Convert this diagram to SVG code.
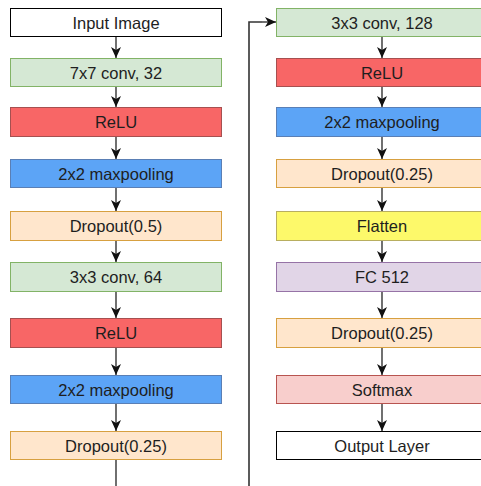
<svg xmlns="http://www.w3.org/2000/svg" width="481" height="486" viewBox="0 0 481 486">
  <style>
    .box { stroke-width: 1; }
    .lbl { font-family: "Liberation Sans", Arial, Helvetica, sans-serif; font-size: 16.5px; fill: #1e1e1e; text-anchor: middle; dominant-baseline: central; }
    .white { fill: #ffffff; stroke: #000000; }
    .green { fill: #d5e8d4; stroke: #82b366; }
    .red { fill: #f86666; stroke: #a65050; }
    .blue { fill: #5ca4f6; stroke: #5a7fb5; }
    .orange { fill: #ffe6cc; stroke: #d7a040; }
    .yellow { fill: #fdf96a; stroke: #b8ae60; }
    .purple { fill: #e1d5e7; stroke: #9673a6; }
    .pink { fill: #f8cecc; stroke: #b85450; }
    .edge { fill: none; stroke: #111111; stroke-width: 1.2; }
    .loop { fill: none; stroke: #333333; stroke-width: 1.6; }
  </style>
  <defs>
    <marker id="arrow" markerUnits="userSpaceOnUse" markerWidth="12" markerHeight="12" viewBox="0 0 12 10" refX="11" refY="5" orient="auto">
      <path d="M0,0 L11,5 L0,10 L3,5 z" fill="#111111"/>
    </marker>
  </defs>

  <rect width="481" height="486" fill="#ffffff"/>

  <!-- connectors -->
  <g id="edges">
    <line class="edge" x1="116" y1="36" x2="116" y2="58" marker-end="url(#arrow)"/>
    <line class="edge" x1="116" y1="86" x2="116" y2="107" marker-end="url(#arrow)"/>
    <line class="edge" x1="116" y1="136" x2="116" y2="159" marker-end="url(#arrow)"/>
    <line class="edge" x1="116" y1="187" x2="116" y2="211" marker-end="url(#arrow)"/>
    <line class="edge" x1="116" y1="240" x2="116" y2="262" marker-end="url(#arrow)"/>
    <line class="edge" x1="116" y1="291" x2="116" y2="318" marker-end="url(#arrow)"/>
    <line class="edge" x1="116" y1="347" x2="116" y2="375" marker-end="url(#arrow)"/>
    <line class="edge" x1="116" y1="403" x2="116" y2="431" marker-end="url(#arrow)"/>

    <polyline class="edge" points="116,459 116,500 249,500"/>
    <polyline class="loop" points="249,500 249,22 262,22"/>
    <line class="edge" x1="262" y1="22" x2="276" y2="22" marker-end="url(#arrow)"/>

    <line class="edge" x1="382" y1="36" x2="382" y2="58" marker-end="url(#arrow)"/>
    <line class="edge" x1="382" y1="86" x2="382" y2="107" marker-end="url(#arrow)"/>
    <line class="edge" x1="382" y1="136" x2="382" y2="159" marker-end="url(#arrow)"/>
    <line class="edge" x1="382" y1="187" x2="382" y2="211" marker-end="url(#arrow)"/>
    <line class="edge" x1="382" y1="240" x2="382" y2="262" marker-end="url(#arrow)"/>
    <line class="edge" x1="382" y1="291" x2="382" y2="318" marker-end="url(#arrow)"/>
    <line class="edge" x1="382" y1="347" x2="382" y2="375" marker-end="url(#arrow)"/>
    <line class="edge" x1="382" y1="403" x2="382" y2="431" marker-end="url(#arrow)"/>
  </g>

  <!-- left column -->
  <g id="input-image"><rect class="box white" x="10.5" y="8.5" width="211" height="28"/><text class="lbl" x="116" y="22.5">Input Image</text></g>
  <g id="conv7x7"><rect class="box green" x="10.5" y="58.5" width="211" height="28"/><text class="lbl" x="116" y="72.5">7x7 conv, 32</text></g>
  <g id="relu1"><rect class="box red" x="10.5" y="107.5" width="211" height="29"/><text class="lbl" x="116" y="122">ReLU</text></g>
  <g id="pool1"><rect class="box blue" x="10.5" y="159.5" width="211" height="28"/><text class="lbl" x="116" y="173.5">2x2 maxpooling</text></g>
  <g id="dropout1"><rect class="box orange" x="10.5" y="211.5" width="211" height="29"/><text class="lbl" x="116" y="226">Dropout(0.5)</text></g>
  <g id="conv3x3-64"><rect class="box green" x="10.5" y="262.5" width="211" height="29"/><text class="lbl" x="116" y="277">3x3 conv, 64</text></g>
  <g id="relu2"><rect class="box red" x="10.5" y="318.5" width="211" height="29"/><text class="lbl" x="116" y="333">ReLU</text></g>
  <g id="pool2"><rect class="box blue" x="10.5" y="375.5" width="211" height="28"/><text class="lbl" x="116" y="389.5">2x2 maxpooling</text></g>
  <g id="dropout2"><rect class="box orange" x="10.5" y="431.5" width="211" height="28"/><text class="lbl" x="116" y="445.5">Dropout(0.25)</text></g>

  <!-- right column -->
  <g id="conv3x3-128"><rect class="box green" x="276.5" y="8.5" width="211" height="28"/><text class="lbl" x="382" y="22.5">3x3 conv, 128</text></g>
  <g id="relu3"><rect class="box red" x="276.5" y="58.5" width="211" height="28"/><text class="lbl" x="382" y="72.5">ReLU</text></g>
  <g id="pool3"><rect class="box blue" x="276.5" y="107.5" width="211" height="29"/><text class="lbl" x="382" y="122">2x2 maxpooling</text></g>
  <g id="dropout3"><rect class="box orange" x="276.5" y="159.5" width="211" height="28"/><text class="lbl" x="382" y="173.5">Dropout(0.25)</text></g>
  <g id="flatten"><rect class="box yellow" x="276.5" y="211.5" width="211" height="29"/><text class="lbl" x="382" y="226">Flatten</text></g>
  <g id="fc512"><rect class="box purple" x="276.5" y="262.5" width="211" height="29"/><text class="lbl" x="382" y="277">FC 512</text></g>
  <g id="dropout4"><rect class="box orange" x="276.5" y="318.5" width="211" height="29"/><text class="lbl" x="382" y="333">Dropout(0.25)</text></g>
  <g id="softmax"><rect class="box pink" x="276.5" y="375.5" width="211" height="28"/><text class="lbl" x="382" y="389.5">Softmax</text></g>
  <g id="output-layer"><rect class="box white" x="276.5" y="431.5" width="211" height="28"/><text class="lbl" x="382" y="445.5">Output Layer</text></g>
</svg>
